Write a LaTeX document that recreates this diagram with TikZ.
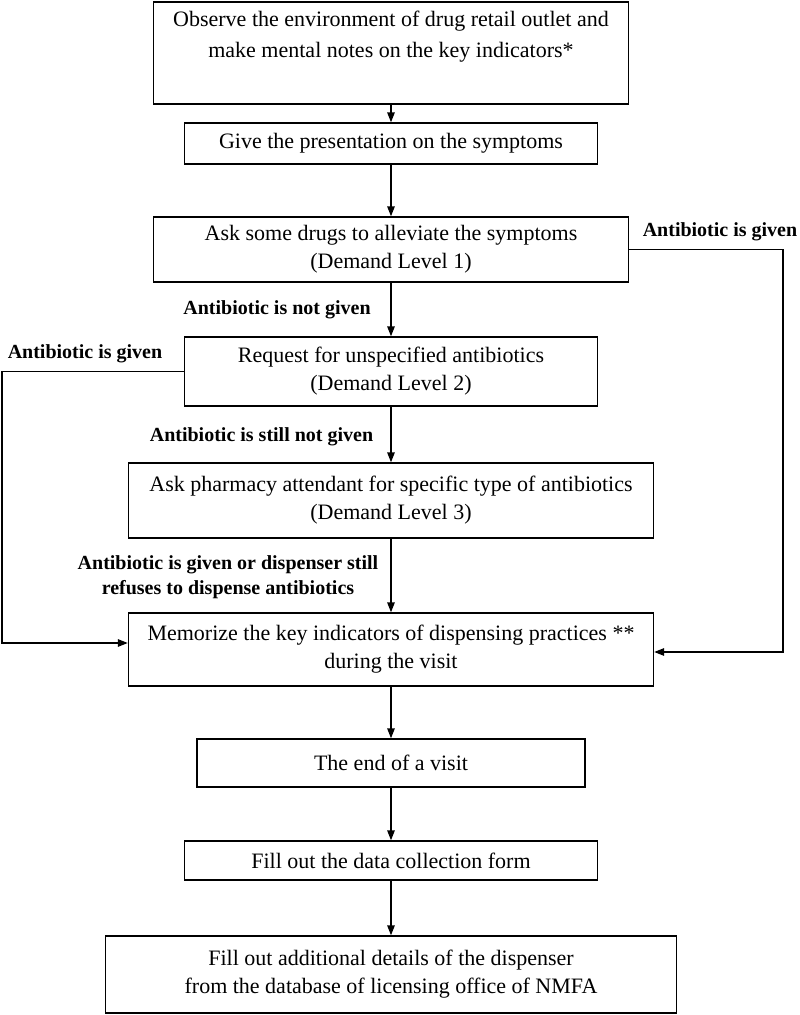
\documentclass[tikz,border=0pt]{standalone}
\usepackage{fontspec}
\setmainfont{Liberation Serif}
\usetikzlibrary{arrows.meta}
\begin{document}
\begin{tikzpicture}[x=1pt,y=-1pt,
  box/.style={draw, line width=1.4pt, inner sep=0pt, align=center, font=\fontsize{22}{28}\selectfont},
  txt/.style={inner sep=0pt, align=center, font=\fontsize{22}{31}\selectfont},
  lbl/.style={inner sep=0pt, align=center, font=\fontsize{20}{25}\selectfont\bfseries},
  arr/.style={line width=1.4pt, -{Triangle[length=10pt,width=7.5pt]}}]
\useasboundingbox (0,0) rectangle (800,1015);
\fill[white] (0,0) rectangle (800,1015);
% boxes
\node[box, minimum width=475pt, minimum height=102pt] (b1) at (391,53) {};
\node[txt] (t1) at (391,36.5) {Observe the environment of drug retail outlet and\\make mental notes on the key indicators*};
\node[box, minimum width=413pt, minimum height=41pt] (b2) at (391,143.5) {Give the presentation on the symptoms};
\node[box, minimum width=475pt, minimum height=65pt] (b3) at (391,249.5) {Ask some drugs to alleviate the symptoms\\(Demand Level 1)};
\node[box, minimum width=413pt, minimum height=69pt] (b4) at (391,371.5) {Request for unspecified antibiotics\\(Demand Level 2)};
\node[box, minimum width=525pt, minimum height=75pt] (b5) at (391,500.5) {Ask pharmacy attendant for specific type of antibiotics\\(Demand Level 3)};
\node[box, minimum width=525pt, minimum height=73pt] (b6) at (391,649.5) {Memorize the key indicators of dispensing practices **\\during the visit};
\node[box, minimum width=388pt, minimum height=48pt] (b7) at (391,763) {The end of a visit};
\node[box, minimum width=413pt, minimum height=39pt] (b8) at (391,860.5) {Fill out the data collection form};
\node[box, minimum width=571pt, minimum height=77pt] (b9) at (391,974.5) {Fill out additional details of the dispenser\\from the database of licensing office of NMFA};
% labels
\node[lbl] (l1) at (720,232) {Antibiotic is given};
\node[lbl] (l2) at (85,354) {Antibiotic is given};
\node[lbl] (l3) at (277,310) {Antibiotic is not given};
\node[lbl] (l4) at (261.5,437) {Antibiotic is still not given};
\node[lbl] (l5) at (228,577) {Antibiotic is given or dispenser still\\refuses to dispense antibiotics};
% connectors
\draw[arr] (b1.south) -- (b2.north);
\draw[arr] (b2.south) -- (b3.north);
\draw[arr] (b3.south) -- (b4.north);
\draw[arr] (b4.south) -- (b5.north);
\draw[arr] (b5.south) -- (b6.north);
\draw[arr] (b6.south) -- (b7.north);
\draw[arr] (b7.south) -- (b8.north);
\draw[arr] (b8.south) -- (b9.north);
\coordinate (lc) at (2,371.5);
\coordinate (rc) at (783,249.5);
\draw[arr] (b4.west) -- (lc) |- ([yshift=6.5pt]b6.west);
\draw[arr] (b3.east) -- (rc) |- ([yshift=-2.5pt]b6.east);
\end{tikzpicture}
\end{document}
